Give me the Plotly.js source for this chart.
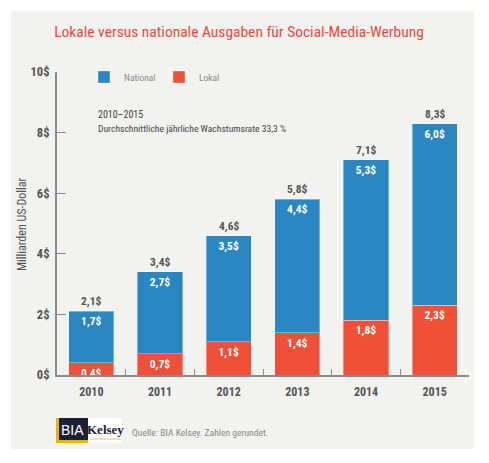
<!DOCTYPE html>
<html>
<head>
<meta charset="utf-8">
<script src="https://cdn.plot.ly/plotly-3.0.1.min.js"></script>
<style>
html,body{margin:0;padding:0;background:#fff;}
#chart{width:489px;height:463px;}
#chart text{font-stretch:condensed;}
</style>
</head>
<body>
<div id="chart"></div>
<script>
var years = ['2010','2011','2012','2013','2014','2015'];
var nationalValues = [1.7, 2.7, 3.5, 4.4, 5.3, 6.0];
var lokalValues = [0.4, 0.7, 1.1, 1.4, 1.8, 2.3];
var totalValues = [2.1, 3.4, 4.6, 5.8, 7.1, 8.3];
var yTickValues = [0, 2, 4, 6, 8, 10];
var yTickLabels = ['0$', '2$', '4$', '6$', '8$', '10$'];

function fmt(v){ return v.toFixed(1).replace('.', ',') + '$'; }

var W = 489, H = 463;
var ML = 57, MR = 20, MT = 72, MB = 88;
var pw = W - ML - MR, ph = H - MT - MB;
function px(x){ return (x - ML) / pw; }
function py(y){ return (H - MB - y) / ph; }

var FONT = 'Roboto Condensed, Liberation Sans, Arial, sans-serif';
var BLUE = '#2a87c2';
var RED = '#ee5038';

var traces = [
  {
    type: 'bar', name: 'Lokal', x: years, y: lokalValues,
    marker: {color: RED, line: {color: 'rgba(255,255,255,0.35)', width: 1}},
    text: lokalValues.map(fmt), textposition: 'inside', insidetextanchor: 'end',
    constraintext: 'none',
    textfont: {family: FONT, size: 11.5, color: '#ffffff', weight: 'bold'},
    legendrank: 2, hoverinfo: 'none'
  },
  {
    type: 'bar', name: 'National', x: years, y: nationalValues,
    marker: {color: BLUE, line: {color: 'rgba(255,255,255,0.35)', width: 1}},
    text: nationalValues.map(fmt), textposition: 'inside', insidetextanchor: 'end',
    constraintext: 'none',
    textfont: {family: FONT, size: 11.5, color: '#ffffff', weight: 'bold'},
    legendrank: 1, hoverinfo: 'none'
  }
];

var annotations = years.map(function(yr, i){
  return {x: i, y: totalValues[i], xref: 'x', yref: 'y', text: fmt(totalValues[i]),
    showarrow: false, yanchor: 'bottom', yshift: 1,
    font: {family: FONT, size: 11.5, color: '#555', weight: 'bold'}};
});
annotations.push(
  {xref: 'paper', yref: 'paper', x: px(96), y: py(114), xanchor: 'left', yanchor: 'middle',
   text: '2010–2015', showarrow: false, font: {family: FONT, size: 10, color: '#444'}},
  {xref: 'paper', yref: 'paper', x: px(96), y: py(128), xanchor: 'left', yanchor: 'middle',
   text: 'Durchschnittliche jährliche Wachstumsrate 33,3 %', showarrow: false,
   font: {family: FONT, size: 9.6, color: '#444'}},
  {xref: 'paper', yref: 'paper', x: px(22), y: py(224), xanchor: 'center', yanchor: 'middle',
   text: 'Milliarden US-Dollar', textangle: -90, showarrow: false,
   font: {family: FONT, size: 12, color: '#555'}},
  {xref: 'paper', yref: 'paper', x: px(72), y: py(430), xanchor: 'center', yanchor: 'middle',
   text: 'BIA', showarrow: false, font: {family: 'Liberation Sans, Arial, sans-serif', size: 14, color: '#ffffff'}},
  {xref: 'paper', yref: 'paper', x: px(105), y: py(429), xanchor: 'center', yanchor: 'middle',
   text: 'Kelsey', showarrow: false, font: {family: 'Liberation Serif, serif', size: 13, color: '#1c1d33', weight: 'bold'}},
  {xref: 'paper', yref: 'paper', x: px(130), y: py(432), xanchor: 'left', yanchor: 'middle',
   text: 'Quelle: BIA Kelsey. Zahlen gerundet.', showarrow: false,
   font: {family: FONT, size: 9.6, color: '#888'}}
);

var shapes = [
  {type: 'rect', xref: 'paper', yref: 'paper', layer: 'below',
   x0: px(11), x1: px(474), y0: py(449), y1: py(11), fillcolor: '#f2f2f0', line: {width: 0}},
  {type: 'rect', xref: 'paper', yref: 'paper', x0: px(88), x1: px(122), y0: py(443), y1: py(418),
   fillcolor: '#ffffff', line: {width: 0}},
  {type: 'rect', xref: 'paper', yref: 'paper', x0: px(56), x1: px(88), y0: py(443), y1: py(418),
   fillcolor: '#e8b21c', line: {width: 0}},
  {type: 'rect', xref: 'paper', yref: 'paper', x0: px(59), x1: px(88), y0: py(440), y1: py(418),
   fillcolor: '#1c1f38', line: {width: 0}},
  {type: 'line', xref: 'paper', yref: 'paper', x0: px(90), x1: px(121), y0: py(439), y1: py(439),
   line: {color: '#e8c660', width: 1}}
];

var layout = {
  width: W, height: H,
  margin: {l: ML, r: MR, t: MT, b: MB, pad: 0},
  paper_bgcolor: '#ffffff',
  plot_bgcolor: 'rgba(0,0,0,0)',
  barmode: 'stack',
  bargap: 0.34,
  title: {text: 'Lokale versus nationale Ausgaben für Social-Media-Werbung',
    xref: 'container', yref: 'container', x: 239 / W, xanchor: 'center',
    y: 1 - 32 / H, yanchor: 'middle',
    font: {family: FONT, size: 15.5, color: '#ec4a3a'}},
  showlegend: true,
  legend: {orientation: 'h', x: px(84), y: py(77), xanchor: 'left', yanchor: 'middle',
    traceorder: 'normal', bgcolor: 'rgba(0,0,0,0)',
    font: {family: FONT, size: 9.5, color: '#888'}, entrywidth: 30, entrywidthmode: 'pixels',
    itemclick: false},
  xaxis: {
    type: 'category', range: [-0.5, 5.5], autorange: false,
    showline: true, linecolor: '#8c8c8c', linewidth: 2,
    ticks: 'inside', tickson: 'boundaries', ticklen: 6, tickcolor: '#8c8c8c', tickwidth: 1,
    showgrid: false, zeroline: false, fixedrange: true,
    tickfont: {family: FONT, size: 12, color: '#555', weight: 'bold'},
    ticklabelstandoff: 5
  },
  yaxis: {
    range: [0, 10], autorange: false, tickvals: yTickValues, ticktext: yTickLabels,
    showline: true, linecolor: '#8c8c8c', linewidth: 2,
    ticks: 'inside', ticklen: 9, tickcolor: '#8c8c8c', tickwidth: 1,
    showgrid: false, zeroline: false, fixedrange: true,
    tickfont: {family: FONT, size: 12.5, color: '#555', weight: 'bold'},
    ticklabelstandoff: 3
  },
  annotations: annotations,
  shapes: shapes
};

Plotly.newPlot('chart', traces, layout, {displayModeBar: false, staticPlot: true});
</script>
</body>
</html>
